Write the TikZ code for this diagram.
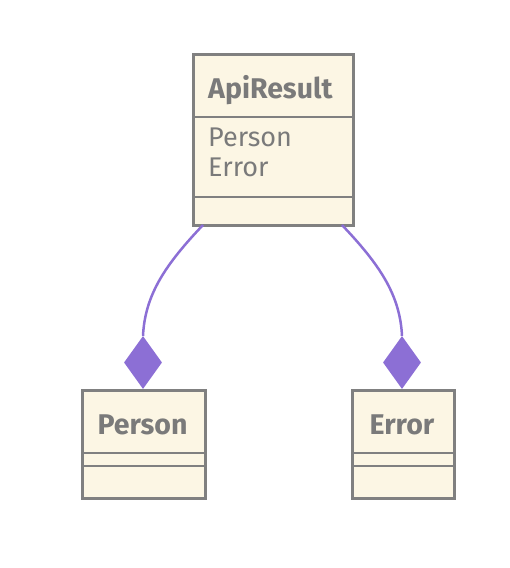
\documentclass[tikz,border=0pt]{standalone}
\usepackage{fontspec}
\setmainfont{Fira Sans}
\usetikzlibrary{shapes.geometric}
\definecolor{boxfill}{HTML}{FCF6E4}
\definecolor{boxline}{HTML}{808080}
\definecolor{txt}{HTML}{7A7A7A}
\definecolor{purp}{HTML}{8C6FD5}
\tikzset{
  classbox/.style={draw=boxline, fill=boxfill, line width=3pt, inner sep=0pt, anchor=north west},
  divider/.style={draw=boxline, line width=2.6pt},
  title/.style={text=txt, font=\fontsize{28.5}{32}\selectfont\bfseries, inner sep=0pt},
  attr/.style={text=txt, font=\fontsize{27}{32}\selectfont, inner sep=0pt, anchor=base west},
  rel/.style={draw=purp, line width=2.5pt},
  diam/.style={shape=diamond, fill=purp, draw=none, minimum width=38pt, minimum height=53pt, inner sep=0pt},
}
\begin{document}
\begin{tikzpicture}[x=1pt,y=-1pt]
\useasboundingbox (0,0) rectangle (510,568);
% ApiResult
\node[classbox, minimum width=160pt, minimum height=171pt] (api) at (192,53) {};
\draw[divider] (192,117) -- (352,117);
\draw[divider] (192,197) -- (352,197);
\node[title, anchor=base west] (apit) at (208,98) {ApiResult};
\node[attr] (a1) at (208,146) {Person};
\node[attr] (a2) at (208,176) {Error};
% Person
\node[classbox, minimum width=123pt, minimum height=108pt] (person) at (81,389) {};
\draw[divider] (81,453) -- (204,453);
\draw[divider] (81,466) -- (204,466);
\node[title, anchor=base] (pt) at (142.5,434) {Person};
% Error
\node[classbox, minimum width=102pt, minimum height=108pt] (error) at (351,389) {};
\draw[divider] (351,453) -- (453,453);
\draw[divider] (351,466) -- (453,466);
\node[title, anchor=base] (et) at (402,434) {Error};
% diamonds
\node[diam] (d1) at (143,362.5) {};
\node[diam] (d2) at (402,362.5) {};
% connectors
\coordinate (s1) at (203,225);
\coordinate (s2) at (342,225);
\draw[rel] (s1) .. controls (165,265) and (145,295) .. (d1.north);
\draw[rel] (s2) .. controls (380,265) and (400,295) .. (d2.north);
\end{tikzpicture}
\end{document}
